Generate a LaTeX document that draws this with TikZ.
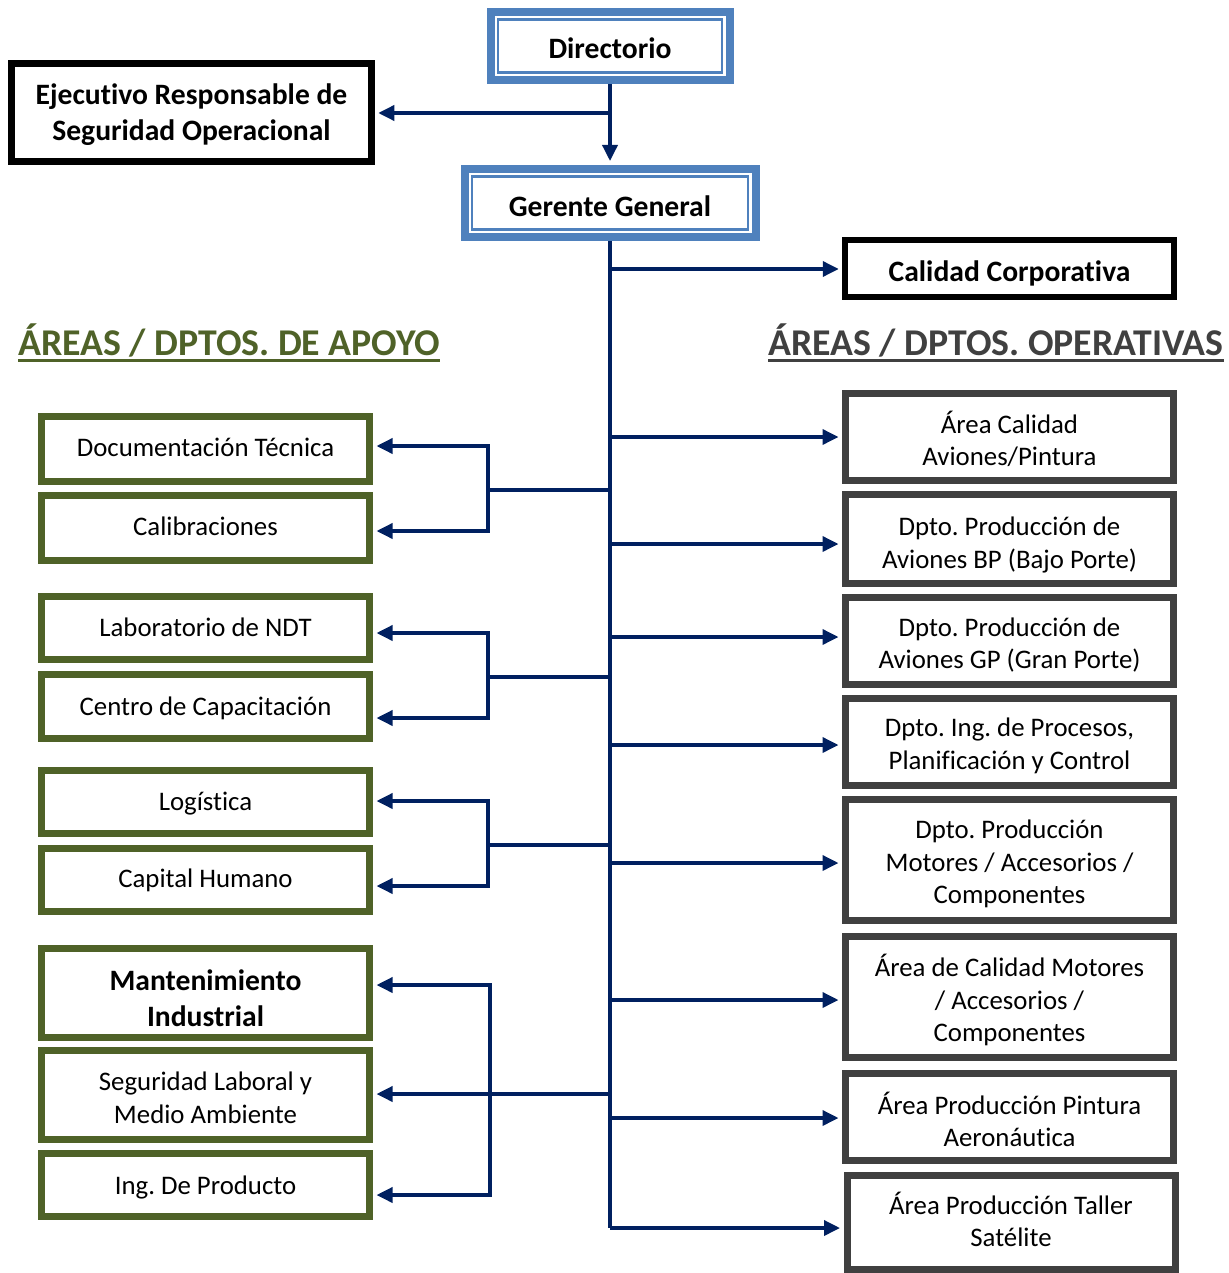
\documentclass[tikz,border=0pt]{standalone}
\usepackage{fontspec}
\setmainfont{Carlito}[Ligatures=CommonOff]
\usetikzlibrary{arrows.meta}
\definecolor{navy}{HTML}{002060}
\definecolor{boxblue}{HTML}{4F81BD}
\definecolor{olive}{HTML}{4F6228}
\definecolor{slate}{HTML}{404040}

\begin{document}
\frenchspacing
\begin{tikzpicture}[x=1pt,y=-1pt,
  txt/.style={inner sep=0pt, align=center, font=\fontsize{26.8}{32.5}\selectfont},
  bold/.style={inner sep=0pt, align=center, font=\fontsize{29.6}{36}\selectfont\bfseries},
  box/.style={rectangle, fill=white, inner sep=0pt, anchor=center},
  bluebox/.style={box, draw=boxblue, line width=8pt,
    path picture={\draw[boxblue, line width=2.5pt]
      ([shift={(7.5pt,7.5pt)}]path picture bounding box.south west) rectangle
      ([shift={(-7.5pt,-7.5pt)}]path picture bounding box.north east);}},
  blackbox/.style={box, draw=black, line width=6.5pt},
  greenbox/.style={box, draw=olive, line width=7pt, minimum width=328pt},
  graybox/.style={box, draw=slate, line width=7pt, minimum width=328pt},
  heading/.style={anchor=base west, inner sep=0pt, font=\fontsize{37.8}{44}\selectfont\bfseries},
  conn/.style={draw=navy, line width=3.5pt},
  tip/.tip={Triangle[length=16pt, width=15pt]},
  arr/.style={conn, -tip, shorten >=3.5pt},
  arrs/.style={conn, tip-tip, shorten >=3.5pt, shorten <=3.5pt, line join=miter},
]
\useasboundingbox (0,0) rectangle (1228,1273);

% top of the chart
\node[bluebox, minimum width=239pt, minimum height=68pt] (dir) at (610,46) {};
\node[bold] (dirT) at ([yshift=-2pt]dir.center) {Directorio};
\node[bluebox, minimum width=291pt, minimum height=68pt] (ger) at (610,203) {};
\node[bold] (gerT) at ([yshift=-3pt]ger.center) {Gerente General};
\node[blackbox, minimum width=360pt, minimum height=98pt] (eje) at (191.5,112.5) {};
\node[bold] (ejeT) at ([yshift=-2.5pt]eje.center) {Ejecutivo Responsable de\\Seguridad Operacional};
\node[blackbox, minimum width=329pt, minimum height=57pt] (cal) at (1009.5,268.5) {};
\node[bold] (calT) at ([yshift=-4.5pt]cal.center) {Calidad Corporativa};

% section headings
\node[heading, text=olive] (hA) at (18,355) {ÁREAS / DPTOS. DE APOYO};
\draw[olive, line width=2.5pt] ([yshift=-5.5pt]hA.base west) -- ([yshift=-5.5pt]hA.base east);
\node[heading, text=slate] (hO) at (768,355) {ÁREAS / DPTOS. OPERATIVAS};
\draw[slate, line width=2.5pt] ([yshift=-5.5pt]hO.base west) -- ([yshift=-5.5pt]hO.base east);

% support areas: box, then its text
\node[greenbox, minimum height=65pt] (l1) at (205.5,449) {};
\node[txt] (l1T) at ([yshift=2pt]l1.center) {Documentación Técnica};
\node[greenbox, minimum height=65pt] (l2) at (205.5,528) {};
\node[txt] (l2T) at ([yshift=2pt]l2.center) {Calibraciones};
\node[greenbox, minimum height=63pt] (l3) at (205.5,628) {};
\node[txt] (l3T) at ([yshift=1pt]l3.center) {Laboratorio de NDT};
\node[greenbox, minimum height=64pt] (l4) at (205.5,706.5) {};
\node[txt] (l4T) at ([yshift=-2pt]l4.center) {Centro de Capacitación};
\node[greenbox, minimum height=63pt] (l5) at (205.5,802) {};
\node[txt] (l5T) at ([yshift=-2pt]l5.center) {Logística};
\node[greenbox, minimum height=63pt] (l6) at (205.5,880) {};
\node[txt] (l6T) at (l6.center) {Capital Humano};
\node[greenbox, minimum height=89pt] (l7) at (205.5,993) {};
\node[bold] (l7T) at ([yshift=-5pt]l7.center) {Mantenimiento\\Industrial};
\node[greenbox, minimum height=89pt] (l8) at (205.5,1095) {};
\node[txt] (l8T) at ([yshift=-3pt]l8.center) {Seguridad Laboral y\\Medio Ambiente};
\node[greenbox, minimum height=63pt] (l9) at (205.5,1185) {};
\node[txt] (l9T) at ([yshift=-2pt]l9.center) {Ing. De Producto};

% operative areas: box, then its text
\node[graybox, minimum height=87pt] (r1) at (1009.5,437) {};
\node[txt] (r1T) at ([yshift=-2pt]r1.center) {Área Calidad\\Aviones/Pintura};
\node[graybox, minimum height=89pt] (r2) at (1009.5,539) {};
\node[txt] (r2T) at ([yshift=-6pt]r2.center) {Dpto. Producción de\\Aviones BP (Bajo Porte)};
\node[graybox, minimum height=87pt] (r3) at (1009.5,641) {};
\node[txt] (r3T) at ([yshift=-4pt]r3.center) {Dpto. Producción de\\Aviones GP (Gran Porte)};
\node[graybox, minimum height=87pt] (r4) at (1009.5,742) {};
\node[txt] (r4T) at ([yshift=-4pt]r4.center) {Dpto. Ing. de Procesos,\\Planificación y Control};
\node[graybox, minimum height=121pt] (r5) at (1009.5,860) {};
\node[txt] (r5T) at ([yshift=-4pt]r5.center) {Dpto. Producción\\Motores / Accesorios /\\Componentes};
\node[graybox, minimum height=121pt] (r6) at (1009.5,997) {};
\node[txt] (r6T) at ([yshift=-3pt]r6.center) {Área de Calidad Motores\\/ Accesorios /\\Componentes};
\node[graybox, minimum height=87pt] (r7) at (1009.5,1117) {};
\node[txt] (r7T) at ([yshift=-2.5pt]r7.center) {Área Producción Pintura\\Aeronáutica};
\node[graybox, minimum height=94pt] (r8) at (1011,1222.5) {};
\node[txt] (r8T) at ([yshift=3pt]r8.center) {Área Producción Taller\\Satélite};

% main line
\coordinate (jE) at (610,113);
\coordinate (tEnd) at (610,1228);
\draw[arr, shorten >=4pt] (dir.south) -- (ger.north);
\draw[arr] (jE) -- (jE -| eje.east);
\draw[conn] (ger.south) -- (tEnd);
\coordinate (jC) at (610,269);
\draw[arr, shorten >=3pt] (jC) -- (jC -| cal.west);

% branches to the operative areas
\foreach \y/\n in {437/r1, 544/r2, 637/r3, 745/r4, 863/r5, 1000/r6, 1118/r7, 1228/r8} {
  \coordinate (t) at (610,\y);
  \draw[arr] (t) -- (t -| \n.west);
}

% branches to the support areas, in pairs
\foreach \m/\a/\b/\p/\q in {490/446/531/l1/l2, 677/633/718/l3/l4, 845/801/886/l5/l6} {
  \coordinate (gm) at (610,\m);
  \coordinate (ga) at (488,\a);
  \coordinate (gb) at (488,\b);
  \draw[conn] (gm) -- (gm -| ga);
  \draw[arrs] (ga -| \p.east) -- (ga) -- (gb) -- (gb -| \q.east);
}

% last group of three
\coordinate (k1) at (490,985);
\coordinate (k2) at (610,1094);
\coordinate (k3) at (490,1195);
\draw[arrs] (k1 -| l7.east) -- (k1) -- (k3) -- (k3 -| l9.east);
\draw[arr] (k2) -- (k2 -| l8.east);
\end{tikzpicture}
\end{document}
